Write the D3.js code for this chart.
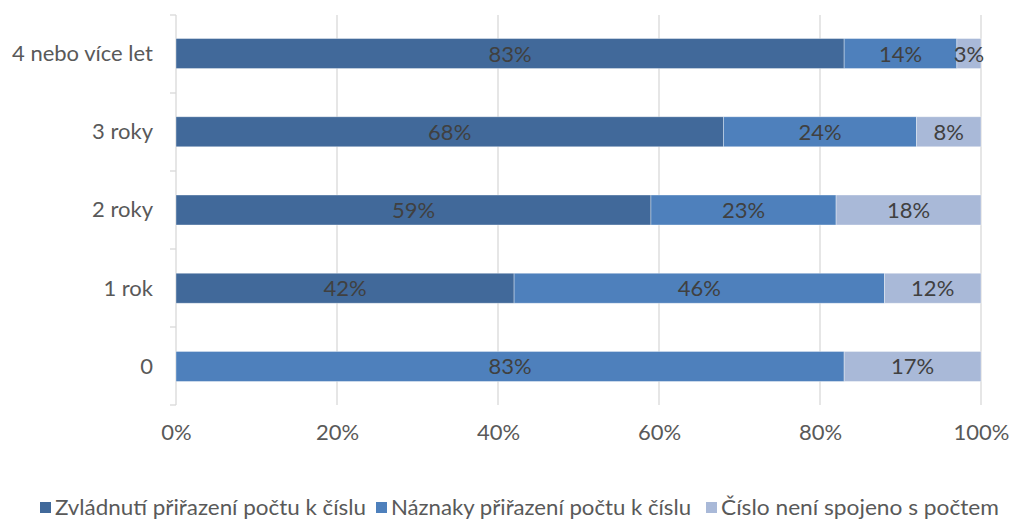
<!DOCTYPE html>
<html>
<head>
<meta charset="utf-8">
<script src="https://cdn.jsdelivr.net/npm/d3@7"></script>
<style>
  html, body { margin: 0; padding: 0; background: #fff; }
  svg text { font-family: Lato, "Open Sans", sans-serif; }
</style>
</head>
<body>
<svg id="chart" width="1010" height="520"></svg>
<script>
// Categories (top to bottom) and the three stacked shares, in percent
const categories = ["4 nebo více let", "3 roky", "2 roky", "1 rok", "0"];
const seriesNames = [
  "Zvládnutí přiřazení počtu k číslu",
  "Náznaky přiřazení počtu k číslu",
  "Číslo není spojeno s počtem"
];
const zvladnuti = [83, 68, 59, 42, 0];
const naznaky   = [14, 24, 23, 46, 83];
const neniSpojeno = [3, 8, 18, 12, 17];
const xTicks = [0, 20, 40, 60, 80, 100];
const colors = ["#41699a", "#4e80bc", "#a9b9d8"];

const rows = categories.map((c, i) => ({
  cat: c, s0: zvladnuti[i], s1: naznaky[i], s2: neniSpojeno[i]
}));

const FONT = 'Lato, "Open Sans", sans-serif';
const FS = 22;

const svg = d3.select("#chart");
const margin = { left: 176, right: 29, top: 15, bottom: 115 };
const W = 1010, H = 520;

const x = d3.scaleLinear().domain([0, 100]).range([margin.left, W - margin.right]);
const y = d3.scaleBand().domain(categories)
  .range([margin.top, H - margin.bottom]).paddingInner(0.615).paddingOuter(0.3);

// vertical gridlines
svg.append("g").selectAll("line").data(xTicks.filter(t => t > 0)).join("line")
  .attr("x1", d => x(d)).attr("x2", d => x(d))
  .attr("y1", margin.top).attr("y2", H - margin.bottom)
  .attr("stroke", "#d9d9d9").attr("stroke-width", 1.3);

// category axis with outer ticks between bands
const axisG = svg.append("g");
axisG.append("line")
  .attr("x1", x(0)).attr("x2", x(0))
  .attr("y1", margin.top).attr("y2", H - margin.bottom)
  .attr("stroke", "#d9d9d9").attr("stroke-width", 1.3);
const step = (H - margin.bottom - margin.top) / categories.length;
axisG.selectAll("line.tk").data(d3.range(categories.length + 1)).join("line")
  .attr("class", "tk")
  .attr("x1", x(0) - 6).attr("x2", x(0))
  .attr("y1", i => margin.top + i * step).attr("y2", i => margin.top + i * step)
  .attr("stroke", "#d9d9d9").attr("stroke-width", 1.3);

const yAxis = d3.axisLeft(y).tickSize(0).tickPadding(23);
svg.append("g").attr("transform", `translate(${x(0)},0)`).call(yAxis)
  .call(g => g.select(".domain").remove())
  .call(g => g.selectAll("text").attr("font-size", FS).attr("fill", "#595959")
    .attr("dy", "0.34em").style("font-family", FONT));

const xAxis = d3.axisBottom(x).tickValues(xTicks).tickFormat(d => d + "%").tickSize(0).tickPadding(19);
svg.append("g").attr("transform", `translate(0,${H - margin.bottom})`).call(xAxis)
  .call(g => g.select(".domain").remove())
  .call(g => g.selectAll("text").attr("font-size", FS).attr("fill", "#595959")
    .style("font-family", FONT));

// stacked bars
const stack = d3.stack().keys(["s0", "s1", "s2"]);
const layers = stack(rows);

const bandCenter = d => y(d.data.cat) + y.bandwidth() / 2;
const barH = 30;

layers.forEach((layer, li) => {
  const g = svg.append("g");
  g.selectAll("rect").data(layer.filter(d => d[1] - d[0] > 0)).join("rect")
    .attr("x", d => x(d[0]))
    .attr("width", d => x(d[1]) - x(d[0]))
    .attr("y", d => bandCenter(d) - barH / 2)
    .attr("height", barH)
    .attr("fill", colors[li])
    .attr("stroke", "#ffffff").attr("stroke-opacity", 0.45).attr("stroke-width", 0.8);
  g.selectAll("text").data(layer.filter(d => d[1] - d[0] > 0)).join("text")
    .attr("x", d => (x(d[0]) + x(d[1])) / 2)
    .attr("y", d => bandCenter(d) + 8)
    .attr("text-anchor", "middle")
    .attr("font-size", FS)
    .attr("fill", "#404040")
    .text(d => (d[1] - d[0]) + "%");
});

// legend
const legendX = [40, 376, 706];
const legendLen = [311, 300, 278];
const lg = svg.append("g");
seriesNames.forEach((name, i) => {
  lg.append("rect").attr("x", legendX[i]).attr("y", 502).attr("width", 11).attr("height", 11)
    .attr("fill", colors[i]);
  lg.append("text").attr("x", legendX[i] + 15).attr("y", 515)
    .attr("font-size", 21).attr("fill", "#595959")
    .attr("textLength", legendLen[i]).attr("lengthAdjust", "spacingAndGlyphs")
    .text(name);
});
</script>
</body>
</html>
